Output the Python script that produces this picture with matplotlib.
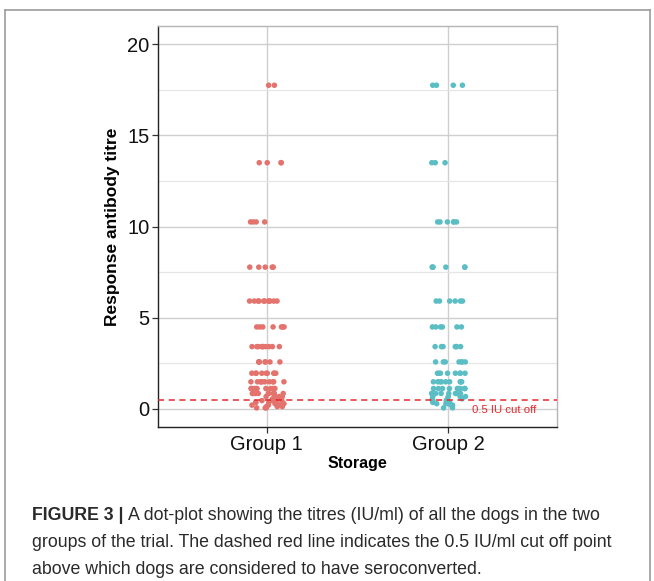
'''Dot-plot of response antibody titres for the two storage groups.'''

import numpy as np
import pandas as pd
import matplotlib
matplotlib.use("Agg")
import matplotlib.pyplot as plt
import seaborn as sns
from matplotlib.lines import Line2D

levels = [17.75, 13.5, 10.25, 7.77, 5.91, 4.49, 3.41, 2.57, 1.95, 1.48, 1.11,
          0.84, 0.67, 0.55, 0.45, 0.35, 0.28, 0.2, 0.12, 0.05]
counts_g1 = [2, 4, 4, 5, 11, 7, 10, 7, 9, 10, 10, 9, 4, 3, 3, 3, 3, 3, 3, 3]
counts_g2 = [4, 3, 6, 6, 6, 6, 7, 7, 8, 9, 9, 8, 4, 3, 3, 2, 3, 2, 0, 2]
groups = ["Group 1", "Group 2"]
colours = ["#E4736E", "#5CBEC5"]
cutoff = 0.5


def main():
    df = pd.DataFrame({
        "Storage": [groups[0]] * sum(counts_g1) + [groups[1]] * sum(counts_g2),
        "titre": np.concatenate([np.repeat(levels, counts_g1),
                                 np.repeat(levels, counts_g2)]),
    })

    fig = plt.figure(figsize=(6.54, 5.81), dpi=100)
    ax = fig.add_axes([158 / 654, 1 - 427 / 581, 399 / 654, 401 / 581])

    np.random.seed(3)
    sns.stripplot(data=df, x="Storage", y="titre", hue="Storage",
                  palette=colours, jitter=0.1, size=4.0, linewidth=0,
                  legend=False, ax=ax, zorder=3)

    ax.set_xlim(-0.6, 1.6)
    ax.set_ylim(-1, 21)
    ax.set_yticks([0, 5, 10, 15, 20])
    ax.set_yticks([2.5, 7.5, 12.5, 17.5], minor=True)
    ax.grid(True, which="major", color="#cfcfcf", lw=1.0, zorder=0)
    ax.grid(True, which="minor", axis="y", color="#e6e6e6", lw=0.9, zorder=0)
    ax.set_axisbelow(True)

    for s in ["top", "right"]:
        ax.spines[s].set_color("#b5b5b5")
        ax.spines[s].set_linewidth(1.0)
    for s in ["left", "bottom"]:
        ax.spines[s].set_color("#222222")
        ax.spines[s].set_linewidth(1.0)

    lab = dict(family="Liberation Sans")
    ax.tick_params(axis="both", which="major", length=4, width=0.9,
                   color="#333333", labelsize=14.5, labelcolor="#111111", pad=2)
    ax.tick_params(axis="y", which="minor", length=0)
    for t in ax.get_xticklabels() + ax.get_yticklabels():
        t.set_family("Liberation Sans")

    ax.set_xlabel("Storage", fontsize=11.5, fontweight="bold", labelpad=1, **lab)
    ax.set_ylabel("Response antibody titre", fontsize=12.5, fontweight="bold",
                  labelpad=5, **lab)

    # cut off line and its label
    ax.axhline(cutoff, color="#e5282c", lw=1.1, ls=(0, (4, 3)), zorder=4)
    ax.text(1.13, -0.08, "0.5 IU cut off", color="#e5282c", fontsize=8.2,
            va="center", ha="left", zorder=5, **lab)

    # figure frame
    fx = lambda p: p / 654
    fy = lambda p: 1 - p / 581
    frame = dict(color="#9c9c9c", lw=1.2, transform=fig.transFigure)
    fig.add_artist(Line2D([fx(5), fx(5)], [0, fy(10)], **frame))
    fig.add_artist(Line2D([fx(5), fx(650)], [fy(10), fy(10)], **frame))
    fig.add_artist(Line2D([fx(650), fx(650)], [fy(10), 0], **frame))

    # caption
    cap = dict(family="Liberation Sans", fontsize=12.8, color="#2a2a2a")
    head = fig.text(fx(32), fy(520), "FIGURE 3 | ", fontweight="bold",
                    va="baseline", **cap)
    fig.canvas.draw()
    ax.annotate("A dot-plot showing the titres (IU/ml) of all the dogs in the two",
                xy=(1, 0), xycoords=head, va="bottom", annotation_clip=False,
                **cap)
    fig.text(fx(32), fy(547),
             "groups of the trial. The dashed red line indicates the 0.5 IU/ml cut off point",
             va="baseline", **cap)
    fig.text(fx(32), fy(574),
             "above which dogs are considered to have seroconverted.",
             va="baseline", **cap)

    fig.savefig("out.png", dpi=100)


if __name__ == "__main__":
    main()
